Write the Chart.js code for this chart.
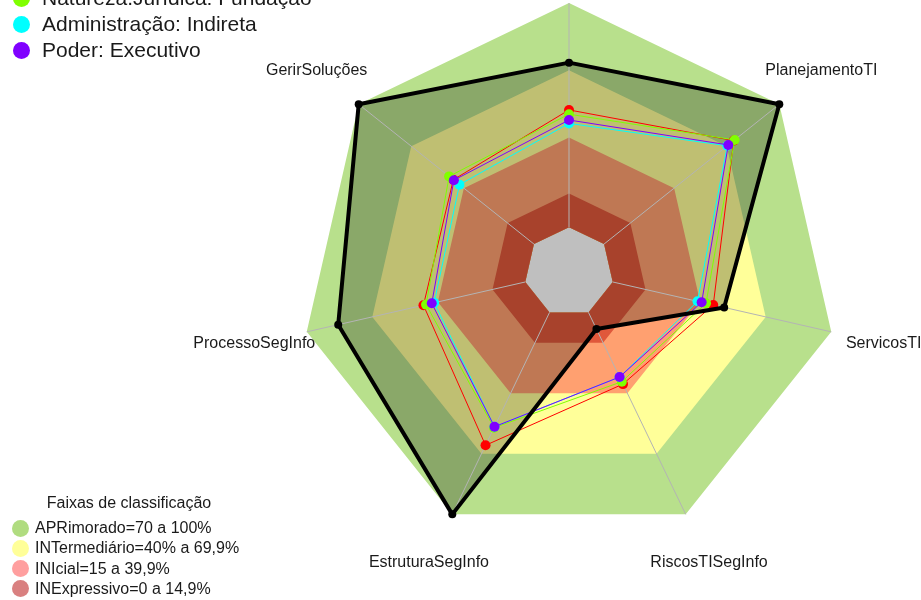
<!DOCTYPE html>
<html lang="pt-BR">
<head>
<meta charset="utf-8">
<title>Radar - faixas de classificação</title>
<script src="https://cdn.jsdelivr.net/npm/chart.js@4.4.1/dist/chart.umd.min.js"></script>
<style>
    html, body { margin: 0; padding: 0; background: #fff; }
    #wrap { position: relative; width: 921px; height: 600px; overflow: hidden; font-family: "Liberation Sans", Arial, sans-serif; color: #1a1a1a; }
    #wrap canvas { position: absolute; left: 0; top: 0; }
    .lg-row { position: absolute; left: 0; display: flex; align-items: center; white-space: nowrap; }
    .lg-dot { display: inline-block; border-radius: 50%; }
    #topLegend .lg-row { font-size: 21px; height: 26px; }
    #topLegend .lg-dot { width: 17px; height: 17px; margin: 0 12px 0 13px; }
    #bandLegend .lg-title { position: absolute; left: 0; width: 258px; text-align: center; font-size: 16px; top: 494px; }
    #bandLegend .lg-row { font-size: 16px; height: 20px; }
    #bandLegend .lg-dot { width: 17px; height: 17px; margin: 0 6px 0 12px; }
</style>
</head>
<body>
<div id="wrap">
    <canvas id="radarChart"></canvas>
    <div id="topLegend"></div>
    <div id="bandLegend"><div class="lg-title">Faixas de classificação</div></div>
</div>
<script>
// ============ Radar: comparativo por dimensão ============

// eixos (o rótulo do eixo superior fica fora da área visível)
const axes = ['', 'PlanejamentoTI', 'ServicosTI', 'RiscosTISegInfo', 'EstruturaSegInfo', 'ProcessoSegInfo', 'GerirSoluções'];

// séries (% por eixo)
const orgao = [73.4, 100, 51, 8.2, 100, 85.6, 100];          // linha preta
const mediaGeral = [52.3, 74, 46, 35.5, 65.8, 46.6, 46];      // vermelho
const naturezaJuridica = [50.4, 74.5, 42.7, 34.3, 57.1, 45.4, 48.4];
const administracao = [46.3, 70.3, 38.8, 32, 56.6, 41.7, 42.5];
const poder = [47.8, 70.9, 40.7, 32, 56.6, 42.8, 45.7];

// faixas de classificação (limite superior de cada faixa)
const bandNames = ['APRimorado=70 a 100%', 'INTermediário=40% a 69,9%', 'INIcial=15 a 39,9%', 'INExpressivo=0 a 14,9%'];
const bandLimits = [100, 70, 40, 15];

const topLegendNames = ['Natureza.Jurídica: Fundação', 'Administração: Indireta', 'Poder: Executivo'];

const BAND_FILL = ['#b8e08c', '#ffff99', '#ffa070', '#e0583b'];
const BAND_DOT = ['#b0dc80', '#ffff99', '#ff9f9f', '#d98080'];
const RED = '#ff0000';
const LIME = '#80ff00';
const CYAN = '#00ffff';
const VIOLET = '#8000ff';
const SPOKE = '#b4b4b4';

const SCALE_MIN = -20;   // deixa o "furo" central (0%) com 1/6 do raio
const LABEL_AT = 124;    // rótulos a 1.2 x raio

// ---------- legends (html) ----------
const topLegend = document.getElementById('topLegend');
const topColors = [LIME, CYAN, VIOLET];
topLegendNames.forEach((name, i) => {
    const row = document.createElement('div');
    row.className = 'lg-row';
    row.style.top = (-15 + i * 26) + 'px';
    row.innerHTML = `<span class="lg-dot" style="background:${topColors[i]}"></span>${name}`;
    topLegend.appendChild(row);
});

const bandLegend = document.getElementById('bandLegend');
bandNames.forEach((name, i) => {
    const row = document.createElement('div');
    row.className = 'lg-row';
    row.style.top = (518 + i * 20.3) + 'px';
    row.innerHTML = `<span class="lg-dot" style="background:${BAND_DOT[i]}"></span>${name}`;
    bandLegend.appendChild(row);
});

// ---------- plugins ----------
// raios dos eixos: de 0% até 100%, por cima das faixas e abaixo das linhas
const spokesPlugin = {
    id: 'spokes',
    beforeDatasetsDraw(chart) {
        const scale = chart.scales.r;
        const ctx = chart.ctx;
        ctx.save();
        ctx.strokeStyle = SPOKE;
        ctx.lineWidth = 1;
        axes.forEach((_, i) => {
            const a = scale.getPointPositionForValue(i, 0);
            const b = scale.getPointPositionForValue(i, 100);
            ctx.beginPath();
            ctx.moveTo(a.x, a.y);
            ctx.lineTo(b.x, b.y);
            ctx.stroke();
        });
        ctx.restore();
    }
};

const axisLabelsPlugin = {
    id: 'axisLabels',
    afterDatasetsDraw(chart) {
        const scale = chart.scales.r;
        const ctx = chart.ctx;
        ctx.save();
        ctx.font = '16px "Liberation Sans", Arial, sans-serif';
        ctx.fillStyle = '#1a1a1a';
        ctx.textAlign = 'center';
        ctx.textBaseline = 'middle';
        axes.forEach((label, i) => {
            const p = scale.getPointPositionForValue(i, LABEL_AT);
            ctx.fillText(label, p.x, p.y);
        });
        ctx.restore();
    }
};

// ---------- datasets ----------
function bandDataset(i) {
    return {
        label: bandNames[i],
        data: axes.map(() => bandLimits[i]),
        backgroundColor: BAND_FILL[i],
        borderColor: 'transparent',
        borderWidth: 0,
        pointRadius: 0,
        fill: 'origin',
        order: 8 - i,
    };
}

function seriesDataset(label, data, color, order) {
    return {
        label,
        data,
        borderColor: color,
        borderWidth: 1,
        pointRadius: 5,
        pointBorderWidth: 0,
        pointBackgroundColor: color,
        fill: false,
        order,
    };
}

const datasets = [
    {
        label: 'Órgão',
        data: orgao,
        borderColor: '#000',
        borderWidth: 4,
        pointRadius: 4,
        pointBorderWidth: 0,
        pointBackgroundColor: '#000',
        backgroundColor: 'rgba(0,0,0,0.25)',
        fill: 'start',
        order: 0,
    },
    seriesDataset('Poder: Executivo', poder, VIOLET, 1),
    seriesDataset('Administração: Indireta', administracao, CYAN, 2),
    seriesDataset('Natureza.Jurídica: Fundação', naturezaJuridica, LIME, 3),
    seriesDataset('Média', mediaGeral, RED, 4),
    bandDataset(3),
    bandDataset(2),
    bandDataset(1),
    bandDataset(0),
];

new Chart(document.getElementById('radarChart'), {
    type: 'radar',
    data: { labels: axes, datasets },
    options: {
        responsive: true,
        maintainAspectRatio: false,
        animation: false,
        layout: { padding: { left: 300, right: 83, top: 3, bottom: 59 } },
        elements: { line: { tension: 0, borderJoinStyle: 'round' } },
        plugins: {
            legend: { display: false },
            tooltip: { enabled: false },
            filler: { drawTime: 'beforeDatasetsDraw' },
        },
        scales: {
            r: {
                min: SCALE_MIN,
                max: 100,
                ticks: { display: false },
                grid: { display: false },
                angleLines: { display: false },
                pointLabels: { display: false },
            }
        }
    },
    plugins: [spokesPlugin, axisLabelsPlugin]
});
</script>
</body>
</html>
